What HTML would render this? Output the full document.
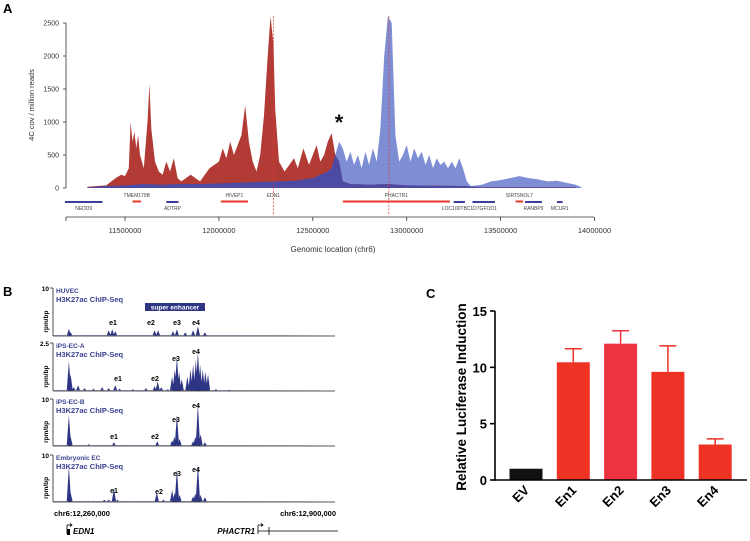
<!DOCTYPE html>
<html><head><meta charset="utf-8"><style>
html,body{margin:0;padding:0;background:#fff;}
svg{display:block;font-family:"Liberation Sans",sans-serif;}
</style></head><body>
<svg id="fig" width="750" height="541" viewBox="0 0 750 541" xmlns="http://www.w3.org/2000/svg">
<g id="pa"></g>
<g id="pb"></g>
<g id="pc"></g>
</svg>
<script>
// ---------- Panel A data (genomic position in Mb, 4C cov) ----------
const redPos=[11.30,11.35,11.40,11.45,11.48,11.50,11.52,11.53,11.54,11.55,11.56,11.57,11.58,11.60,11.62,11.63,11.64,11.66,11.68,11.70,11.72,11.74,11.76,11.78,11.80,11.85,11.90,11.95,12.00,12.02,12.04,12.06,12.08,12.10,12.12,12.14,12.16,12.18,12.20,12.22,12.24,12.26,12.275,12.29,12.30,12.32,12.35,12.40,12.42,12.45,12.48,12.50,12.52,12.54,12.56,12.58,12.60,12.62,12.64,12.66,12.70,12.80,12.90,13.00,13.30,13.40,13.90];
const redVal=[20,30,40,150,200,180,300,1000,700,850,600,800,500,300,1000,1580,900,400,250,200,400,250,450,150,100,200,100,300,400,600,450,700,500,650,800,1250,700,400,250,500,1100,2000,2600,2200,1200,400,250,450,300,600,350,500,650,400,500,700,830,500,400,100,60,50,60,40,30,10,10];
const bluePos=[11.30,11.40,11.50,11.60,11.70,11.80,11.90,12.00,12.10,12.20,12.30,12.40,12.50,12.58,12.60,12.62,12.64,12.66,12.68,12.70,12.72,12.74,12.76,12.78,12.80,12.82,12.84,12.86,12.88,12.90,12.92,12.94,12.96,12.98,13.00,13.02,13.04,13.06,13.08,13.10,13.12,13.14,13.16,13.18,13.20,13.22,13.24,13.26,13.28,13.30,13.32,13.34,13.40,13.45,13.50,13.55,13.60,13.65,13.70,13.75,13.80,13.85,13.90,13.93];
const blueVal=[10,30,40,60,50,60,60,70,80,90,100,110,150,250,300,500,700,600,400,550,350,500,300,550,350,600,400,900,2000,2600,2500,800,400,500,650,400,600,450,550,350,500,300,450,350,400,300,400,300,450,300,100,30,50,100,120,150,180,150,130,100,110,80,50,10];
const yTicksA=[0,500,1000,1500,2000,2500];
const xTicksA=[11500000,12000000,12500000,13000000,13500000,14000000];
const genesTop=[["TMEM170B",11.54,11.585,"r"],["HIVEP1",12.01,12.155,"r"],["EDN1",12.28,12.30,"n"],["PHACTR1",12.66,13.23,"r"],["SIRT5NOL7",13.58,13.62,"r"]];
const genesBot=[["NEDD9",11.18,11.38,"b"],["ADTRP",11.72,11.785,"b"],["LOC100TBC1D7GFOD1",13.25,13.31,"b"],["",13.35,13.47,"b"],["RANBP9",13.63,13.72,"b"],["MCUR1",13.80,13.83,"b"]];

// ---------- Panel B data (position in kb from chr6:12,260,000, relative height) ----------
const peakPos1=[34,38,125,133,140,230,238,272,281,300,318,329,345];
const peakH1=[0.15,0.08,0.12,0.14,0.1,0.12,0.12,0.1,0.14,0.08,0.12,0.2,0.08];
const peakPos2=[34,38,45,55,70,90,110,125,140,150,180,210,230,237,245,260,270,276,281,286,292,305,312,318,324,329,334,340,346,352,370,400];
const peakH2=[0.62,0.35,0.08,0.12,0.06,0.05,0.08,0.06,0.12,0.05,0.04,0.06,0.1,0.2,0.08,0.04,0.3,0.45,0.72,0.4,0.25,0.3,0.45,0.55,0.65,0.82,0.55,0.45,0.4,0.35,0.04,0.03];
const peakPos3=[34,38,80,137,236,270,275,281,287,318,323,329,335,345];
const peakH3=[0.66,0.2,0.04,0.08,0.1,0.12,0.2,0.66,0.15,0.1,0.2,0.9,0.25,0.08];
const peakPos4=[34,38,90,115,125,137,145,235,250,270,276,281,287,318,323,329,335,345];
const peakH4=[0.76,0.2,0.03,0.05,0.05,0.28,0.05,0.2,0.05,0.25,0.2,0.7,0.15,0.12,0.18,0.8,0.15,0.1];

// ---------- Panel C data ----------
const catsC=["EV","En1","En2","En3","En4"];
const valsC=[1.0,10.45,12.1,9.6,3.15];
const errC=[1.05,11.65,13.25,11.9,3.65];
const colorsC=["#111111","#ee3325","#ee3340","#ec3226","#ee3325"];
const yTicksC=[0,5,10,15];

const NS="http://www.w3.org/2000/svg";
function mk(parent,tag,attrs,text){const e=document.createElementNS(NS,tag);for(const k in attrs)e.setAttribute(k,attrs[k]);if(text!==undefined)e.textContent=text;parent.appendChild(e);return e;}

// ===== Panel A =====
const pa=document.getElementById('pa');
const xA=p=>125+(p-11.5)/0.5*93.9;
const yA=v=>188-v/2500*165;
let t=mk(pa,'text',{x:3,y:13,'font-size':13,'font-weight':'bold'},'A');

function areaPath(pos,val){let d='M'+xA(pos[0]).toFixed(1)+','+yA(0);for(let i=0;i<pos.length;i++)d+=' L'+xA(pos[i]).toFixed(1)+','+yA(val[i]).toFixed(1);d+=' L'+xA(pos[pos.length-1]).toFixed(1)+','+yA(0)+'Z';return d;}
let e=mk(pa,'path',{d:areaPath(bluePos,blueVal),fill:'#7e8ed4'});

e=mk(pa,'path',{d:areaPath(redPos,redVal),fill:'#b23b36'});

function interp(pos,val,p){if(p<=pos[0])return val[0];for(let i=1;i<pos.length;i++){if(p<=pos[i]){const f=(p-pos[i-1])/(pos[i]-pos[i-1]);return val[i-1]+f*(val[i]-val[i-1]);}}return val[val.length-1];}
const allP=[...new Set([...redPos,...bluePos])].sort((a,b)=>a-b).filter(p=>p>=11.30&&p<=13.90);
const ovV=allP.map(p=>Math.min(interp(redPos,redVal,p),interp(bluePos,blueVal,p)));
e=mk(pa,'path',{d:areaPath(allP,ovV),fill:'#4d4aa3'});

e=mk(pa,'line',{x1:66,y1:yA(0),x2:66,y2:yA(2500),stroke:'#333','stroke-width':0.8});

yTicksA.forEach(v=>{mk(pa,'line',{x1:63,y1:yA(v),x2:66,y2:yA(v),stroke:'#333','stroke-width':0.8});
 const tt=mk(pa,'text',{x:59,y:yA(v)+2.5,'font-size':7,'text-anchor':'end',fill:'#333'},String(v));
 });
e=mk(pa,'text',{x:0,y:0,'font-size':7.5,'text-anchor':'middle',fill:'#333',transform:'translate(34,105) rotate(-90)'},'4C cov / million reads');

e=mk(pa,'line',{x1:66,y1:217,x2:594,y2:217,stroke:'#333','stroke-width':0.8});

xTicksA.forEach(v=>{const x=xA(v/1e6);mk(pa,'line',{x1:x,y1:217,x2:x,y2:221,stroke:'#333','stroke-width':0.8});
 const tt=mk(pa,'text',{x:x,y:233,'font-size':7.5,'text-anchor':'middle',fill:'#333'},String(v));
 });
mk(pa,'line',{x1:66,y1:217,x2:66,y2:221,stroke:'#333','stroke-width':0.8});
e=mk(pa,'text',{x:333,y:252,'font-size':8,'text-anchor':'middle',fill:'#333'},'Genomic location (chr6)');

[12.29,12.905].forEach((p,i)=>{const l=mk(pa,'line',{x1:xA(p),y1:16,x2:xA(p),y2:214,stroke:'#e03a3a','stroke-width':0.7,'stroke-dasharray':'2,1.5'});
 });
const gc={r:'#e8382e',b:'#3b3f9a',n:'none'};
genesTop.forEach(g=>{if(g[3]!=='n'){const r=mk(pa,'rect',{x:xA(g[1]),y:200.5,width:xA(g[2])-xA(g[1]),height:2,fill:gc[g[3]]});}
 const tt=mk(pa,'text',{x:(xA(g[1])+xA(g[2]))/2,y:197,'font-size':5,'text-anchor':'middle',fill:'#444'},g[0]);
 });
genesBot.forEach(g=>{const r=mk(pa,'rect',{x:xA(g[1]),y:201,width:xA(g[2])-xA(g[1]),height:2,fill:gc[g[3]]});
 if(g[0]){const tt=mk(pa,'text',{x:(xA(g[1])+xA(g[2]))/2+(g[0].length>10?10:0),y:210,'font-size':5,'text-anchor':'middle',fill:'#444'},g[0]);
 }});
e=mk(pa,'text',{x:339,y:130,'font-size':22,'font-weight':'bold','text-anchor':'middle',fill:'#111'},'*');


// ===== Panel B =====
const pb=document.getElementById('pb');
const xB=k=>54+k/640*280;
t=mk(pb,'text',{x:3,y:296,'font-size':13,'font-weight':'bold'},'B');

const tracks=[{top:288,base:336,max:'10',name:'HUVEC',pos:peakPos1,h:peakH1,lab:[[113,325],[151,325],[177,325],[196,325]]},
 {top:343,base:391,max:'2.5',name:'iPS-EC-A',pos:peakPos2,h:peakH2,lab:[[118,381],[155,381],[176,361],[196,354]]},
 {top:399,base:446,max:'10',name:'iPS-EC-B',pos:peakPos3,h:peakH3,lab:[[114,439],[155,439],[176,422],[196,408]]},
 {top:455,base:502,max:'10',name:'Embryonic EC',pos:peakPos4,h:peakH4,lab:[[114,493],[159,494],[177,476],[196,472]]}];
tracks.forEach((tr,ti)=>{
 const g=mk(pb,'g',{});
 const H=tr.base-tr.top;
 let d='M'+xB(0)+','+tr.base+' L'+xB(640)+','+(tr.base-0.6)+' L'+xB(0)+','+(tr.base-0.6)+'Z';
 tr.pos.forEach((p,i)=>{const x=xB(p);d+=' M'+(x-2.2).toFixed(1)+','+tr.base+' L'+x.toFixed(1)+','+(tr.base-tr.h[i]*H).toFixed(1)+' L'+(x+2.2).toFixed(1)+','+tr.base+'Z';});
 const pk=mk(g,'path',{d:d,fill:'#2e3584'});
 mk(g,'line',{x1:53,y1:tr.top,x2:53,y2:tr.base,stroke:'#222','stroke-width':0.8});
 mk(g,'line',{x1:53,y1:tr.base,x2:335,y2:tr.base,stroke:'#222','stroke-width':0.8});
 mk(g,'line',{x1:50,y1:tr.top,x2:53,y2:tr.top,stroke:'#222','stroke-width':0.8});
 let q=mk(g,'text',{x:49,y:tr.top+3,'font-size':6.5,'font-weight':'bold','text-anchor':'end'},tr.max);
 q=mk(g,'text',{x:0,y:0,'font-size':6.5,'font-weight':'bold','text-anchor':'middle',transform:'translate(48,'+(tr.top+H*0.7)+') rotate(-90)'},'rpm/bp');
 q=mk(g,'text',{x:56,y:tr.top+5,'font-size':6.5,'font-weight':'bold',fill:'#3a3f8f'},tr.name);
 q=mk(g,'text',{x:56,y:tr.top+14,'font-size':7.5,'font-weight':'bold',fill:'#3a3f8f'},'H3K27ac ChIP-Seq');
 tr.lab.forEach((l,i)=>{const z=mk(g,'text',{x:l[0],y:l[1],'font-size':7,'font-weight':'bold','text-anchor':'middle'},'e'+(i+1));});
});
e=mk(pb,'rect',{x:145,y:303,width:60,height:8,fill:'#2e3584'});
e=mk(pb,'text',{x:175,y:309.5,'font-size':6.5,'font-weight':'bold','text-anchor':'middle',fill:'#fff'},'super enhancer');
e=mk(pb,'text',{x:54,y:516,'font-size':7.5,'font-weight':'bold'},'chr6:12,260,000');
e=mk(pb,'text',{x:336,y:516,'font-size':7.5,'font-weight':'bold','text-anchor':'end'},'chr6:12,900,000');
e=mk(pb,'path',{d:'M67,534 L67,525 L71,525 M70,523.5 L72,525 L70,526.5',stroke:'#000','stroke-width':0.8,fill:'none'});
mk(pb,'rect',{x:67,y:529,width:3,height:6,fill:'#000'});
e=mk(pb,'text',{x:73,y:534,'font-size':8,'font-weight':'bold','font-style':'italic'},'EDN1');
e=mk(pb,'text',{x:255,y:534,'font-size':8,'font-weight':'bold','font-style':'italic','text-anchor':'end'},'PHACTR1');
e=mk(pb,'path',{d:'M258,525 L258,534 M258,531 L338,531 M269,527 L269,535 M258,525 L262,525 M261,523.5 L263,525 L261,526.5',stroke:'#000','stroke-width':0.8,fill:'none'});

// ===== Panel C =====
const pc=document.getElementById('pc');
const yC=v=>480-v/15*169;
const xC=i=>526+i*47.3;
t=mk(pc,'text',{x:426,y:298,'font-size':13,'font-weight':'bold'},'C');

catsC.forEach((c,i)=>{
 const b=mk(pc,'rect',{x:xC(i)-16.5,y:yC(valsC[i]),width:33,height:yC(0)-yC(valsC[i]),fill:colorsC[i]});
 
 if(i>0){const eb=mk(pc,'path',{d:'M'+xC(i)+','+yC(valsC[i])+' L'+xC(i)+','+yC(errC[i])+' M'+(xC(i)-8.5)+','+yC(errC[i])+' L'+(xC(i)+8.5)+','+yC(errC[i]),stroke:colorsC[i],'stroke-width':1.5,fill:'none'});
 }
 const l=mk(pc,'text',{x:0,y:0,'font-size':13,'font-weight':'bold','text-anchor':'end',transform:'translate('+(xC(i)+4)+',491) rotate(-45)'},c);
 
});
e=mk(pc,'line',{x1:495,y1:yC(0),x2:747,y2:yC(0),stroke:'#000','stroke-width':1.6});
e=mk(pc,'line',{x1:495,y1:yC(0)+0.8,x2:495,y2:yC(15),stroke:'#000','stroke-width':1.6});
yTicksC.forEach(v=>{mk(pc,'line',{x1:490,y1:yC(v),x2:495,y2:yC(v),stroke:'#000','stroke-width':1.6});
 const tt=mk(pc,'text',{x:487,y:yC(v)+5,'font-size':13,'font-weight':'bold','text-anchor':'end'},String(v));
 });
e=mk(pc,'text',{x:0,y:0,'font-size':13.5,'font-weight':'bold','text-anchor':'middle',transform:'translate(466,397) rotate(-90)'},'Relative Luciferase  Induction');

</script>
</body></html>
